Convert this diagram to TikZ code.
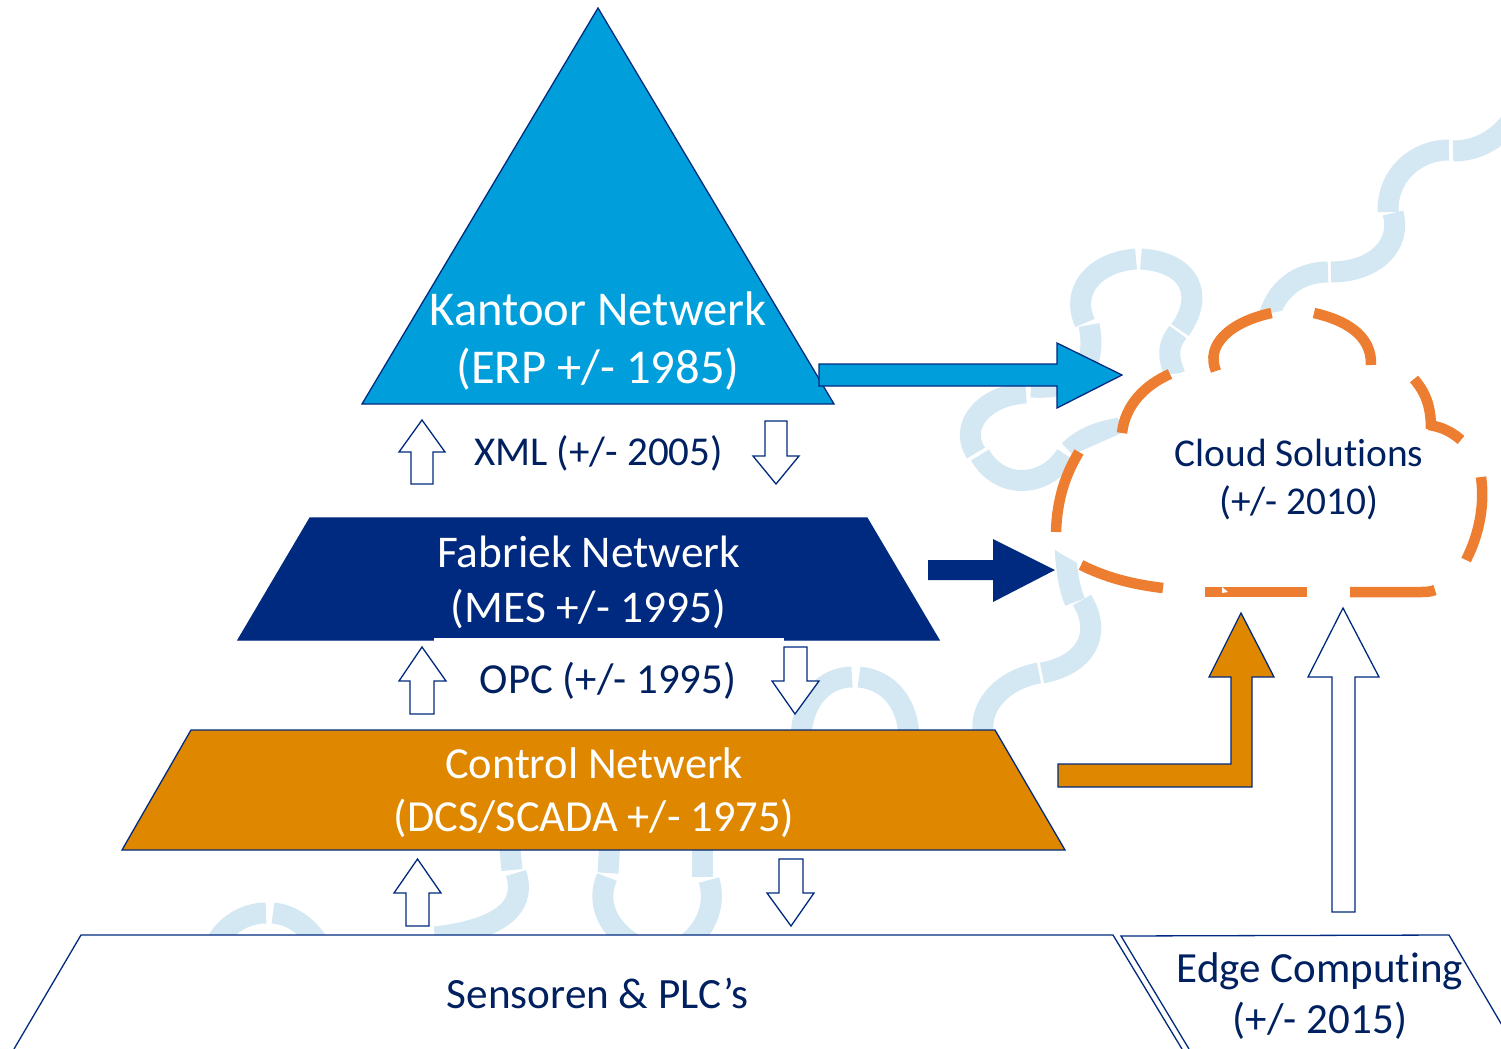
\documentclass[tikz,border=0pt]{standalone}
\usepackage{fontspec}
\setmainfont{Carlito}[Ligatures=NoCommon]
\definecolor{navy}{HTML}{002A7F}
\definecolor{textnavy}{HTML}{002060}
\definecolor{skyfill}{HTML}{009FDB}
\definecolor{amberfill}{HTML}{E08700}
\definecolor{cloudline}{HTML}{ED7D31}
\definecolor{wave}{HTML}{D4E8F3}
\newcommand{\txt}[2]{\fontsize{#1}{#2}\selectfont}
\tikzset{
  x=0.5pt,y=-0.5pt,
  band/.style={draw=wave,line width=10.5pt,line cap=butt},
  cloudseg/.style={draw=cloudline,line width=5.25pt,line cap=butt,line join=miter},
  outlined/.style={draw=navy,line width=0.65pt,line join=miter},
  hollow/.style={outlined,fill=white},
  label/.style={inner sep=0pt,align=center,text=textnavy,anchor=center},
  labelw/.style={inner sep=0pt,align=center,text=white,anchor=center},
}
\begin{document}
\begin{tikzpicture}
\useasboundingbox (0,0) rectangle (1501,1049);
\clip (0,0) rectangle (1501,1049);
% background wave
\draw[band] (1512,120) .. controls (1497,140) and (1477,151) .. (1453,151);
\draw[band] (1449,150) .. controls (1416,150) and (1387,175) .. (1388,212);
\draw[band] (1393,213) .. controls (1402,245) and (1375,272) .. (1331,272);
\draw[band] (1328,272) .. controls (1298,272) and (1275,290) .. (1268,320);
\draw[band] (1175,375) .. controls (1167,355) and (1168,345) .. (1178,332);
\draw[band] (1180,330) .. controls (1205,295) and (1190,262) .. (1141,259);
\draw[band] (1136,259) .. controls (1095,262) and (1070,290) .. (1085,323);
\draw[band] (1089,325) .. controls (1098,370) and (1075,390) .. (1031,387);
\draw[band] (1026,393) .. controls (985,395) and (958,425) .. (976,453);
\draw[band] (980,455) .. controls (1000,490) and (1045,488) .. (1066,455);
\draw[band] (1069,451) .. controls (1080,440) and (1095,432) .. (1120,428);
\draw[band] (1065,545) .. controls (1066,565) and (1068,585) .. (1075,602);
\draw[band] (1082,600) .. controls (1103,635) and (1085,665) .. (1042,673);
\draw[band] (1039,673) .. controls (1000,680) and (975,710) .. (985,740);
\draw[band] (801,740) .. controls (801,700) and (825,677) .. (852,677);
\draw[band] (859,677) .. controls (890,680) and (909,705) .. (909,740);
\draw[band] (509,840) -- (512,870);
\draw[band] (516,873) .. controls (528,910) and (495,930) .. (435,937);
\draw[band] (610,840) -- (608,873);
\draw[band] (607,877) .. controls (595,905) and (610,930) .. (635,945);
\draw[band] (702,840) -- (702,877);
\draw[band] (709,880) .. controls (718,910) and (700,935) .. (685,945);
\draw[band] (215,945) .. controls (225,925) and (245,913) .. (266,913);
\draw[band] (273,913) .. controls (295,915) and (310,930) .. (320,945);
% cloud
\fill[white] (1216,371) .. controls (1205,345) and (1230,322) .. (1271.5,313)
  -- (1292,309) -- (1314,313) .. controls (1345,320) and (1372,335) .. (1371,365)
  -- (1414,379) .. controls (1425,392) and (1431,405) .. (1431,429)
  -- (1429,425) .. controls (1442,427) and (1452,432) .. (1461,440)
  -- (1481,477) .. controls (1485,505) and (1479,535) .. (1466,560)
  -- (1435,590) -- (1205,592)
  -- (1163,588) .. controls (1130,584) and (1105,577) .. (1081,565)
  -- (1060,553) -- (1048,545)
  -- (1056,532) .. controls (1057,500) and (1065,475) .. (1079,452)
  -- (1122,433) .. controls (1125,405) and (1145,385) .. (1170,374) -- cycle;
\draw[cloudseg] (1216,371) .. controls (1205,345) and (1230,322) .. (1271.5,313);
\draw[cloudseg] (1314,313) .. controls (1345,320) and (1372,335) .. (1371,365);
\draw[cloudseg] (1414,379) .. controls (1425,392) and (1431,405) .. (1431,429);
\draw[cloudseg] (1429,425) .. controls (1442,427) and (1452,432) .. (1461,440);
\draw[cloudseg] (1481,477) .. controls (1485,505) and (1479,535) .. (1466,560);
\draw[cloudseg] (1435,590) .. controls (1430,592) and (1425,592) .. (1421,592) -- (1350,592);
\draw[cloudseg] (1307,592) -- (1205,592);
\fill[white] (1222,587) -- (1228,592) -- (1222,593) -- cycle;
\draw[cloudseg] (1163,588) .. controls (1130,584) and (1105,577) .. (1081,565);
\draw[cloudseg] (1056,532) .. controls (1057,500) and (1065,475) .. (1079,452);
\draw[cloudseg] (1122,433) .. controls (1125,405) and (1145,385) .. (1170,374);
% levels
\draw[outlined,fill=skyfill] (598,8) -- (834,404) -- (362,404) -- cycle;
\draw[outlined,fill=navy] (310,518) -- (867,518) -- (939,640) -- (238,640) -- cycle;
\fill[white] (434,637.5) rectangle (784,642);
\draw[outlined,fill=amberfill] (191,730) -- (995,730) -- (1065,850) -- (122,850) -- cycle;
\fill[white] (14,1049) -- (81,935) -- (1113,935) -- (1182,1049) -- cycle;
\draw[outlined] (14,1049) -- (81,935) -- (1113,935) -- (1182,1049);
\draw[outlined] (1189,1049) -- (1121,936) -- (1449,935) -- (1516,1049);
% hollow arrows
\draw[hollow] (422,420) -- (445,452) -- (433,452) -- (433,484) -- (411,484) -- (411,452) -- (399,452) -- cycle;
\draw[hollow] (765,421) -- (787,421) -- (787,456) -- (799,456) -- (776,484) -- (753,456) -- (765,456) -- cycle;
\draw[hollow] (422,647) -- (446,681) -- (434,681) -- (434,714) -- (410,714) -- (410,681) -- (399,681) -- cycle;
\draw[hollow] (784,647) -- (807,647) -- (807,681) -- (819,681) -- (795,714) -- (772,681) -- (784,681) -- cycle;
\draw[hollow] (417.5,859) -- (441,893) -- (429,893) -- (429,926) -- (406,926) -- (406,893) -- (394,893) -- cycle;
\draw[hollow] (779,859) -- (803,859) -- (803,893) -- (814,893) -- (791,926) -- (767,893) -- (779,893) -- cycle;
\draw[hollow] (1343,608) -- (1379,677) -- (1355,677) -- (1355,912) -- (1332,912) -- (1332,677) -- (1308,677) -- cycle;
% filled arrows
\draw[outlined,fill=skyfill] (819,364) -- (1057,364) -- (1057,343) -- (1122,375) -- (1057,408) -- (1057,386) -- (819,386) -- cycle;
\fill[navy] (928,560) -- (993,560) -- (993,539) -- (1055,570) -- (993,602) -- (993,580) -- (928,580) -- cycle;
\draw[outlined,fill=amberfill] (1058,764) -- (1231,764) -- (1231,677) -- (1209,677) -- (1241,613) -- (1274,677) -- (1252,677) -- (1252,787) -- (1058,787) -- cycle;
% texts
\node[labelw,font=\txt{24.3}{29}] (kantoor) at (598,341) {Kantoor Netwerk\\(ERP +/- 1985)};
\node[label,font=\txt{20.5}{24}] (xml) at (598.5,453.5) {XML (+/- 2005)};
\node[labelw,font=\txt{22.7}{27.5}] (fabriek) at (588.5,582) {Fabriek Netwerk\\(MES +/- 1995)};
\node[label,font=\txt{21.4}{24}] (opc) at (608,681) {OPC (+/- 1995)};
\node[labelw,font=\txt{22.2}{26.5}] (control) at (594,792.5) {Control Netwerk\\(DCS/SCADA +/- 1975)};
\node[label,font=\txt{21.6}{24}] (sensoren) at (597.5,993) {Sensoren \& PLC’s};
\node[label,font=\txt{21.5}{25.5}] (edge) at (1320,996.5) {Edge Computing\\(+/- 2015)};
\node[label,font=\txt{19.7}{24}] (cloud) at (1299,480) {Cloud Solutions\\(+/- 2010)};
\end{tikzpicture}
\end{document}
